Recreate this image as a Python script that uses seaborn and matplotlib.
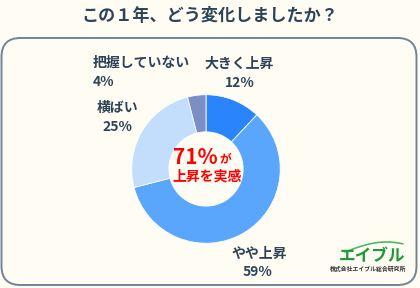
import numpy as np
import matplotlib
matplotlib.use('Agg')
import matplotlib.pyplot as plt
import seaborn as sns
from matplotlib.patches import FancyBboxPatch

sns.set_theme(style='white')
plt.rcParams['font.family'] = ['Noto Sans CJK JP', 'DejaVu Sans']

# データ
categories = ['大きく上昇', 'やや上昇', '横ばい', '把握していない']
shares = [12, 59, 25, 4]
colors = ['#2a84fc', '#5aa6fc', '#c3ddfc', '#7b8fc4']
title = 'この１年、どう変化しましたか？'

bg = '#fffcf4'
txt = '#2d4457'

fig = plt.figure(figsize=(4.2, 2.88), dpi=100)
fig.patch.set_facecolor(bg)

# 枠
W, H = 420, 288
frame = FancyBboxPatch((1.5 / W, 3 / H), 415 / W, 247 / H,
                       boxstyle='round,pad=0,rounding_size=0.045',
                       transform=fig.transFigure, facecolor=bg,
                       edgecolor='#6f8594', linewidth=1.4,
                       mutation_aspect=W / H, zorder=-5)
fig.patches.append(frame)

fig.text(0.5, 1 - 16 / H, title, ha='center', va='center',
         fontsize=12.3, fontweight='bold', color=txt)

# ドーナツ
ax = fig.add_axes([(206 - 75) / W, 1 - (169 + 75) / H, 150 / W, 150 / H])
ax.set_zorder(2)
ax.patch.set_alpha(0)
ax.pie(shares, colors=colors, startangle=90, counterclock=False,
       wedgeprops=dict(width=0.5, edgecolor='white', linewidth=0.6))
ax.set_xlim(-1.01, 1.01)
ax.set_ylim(-1.01, 1.01)
ax.set_aspect('equal')
ax.axis('off')

# ラベル
def lab(x, y, s, ha='center'):
    fig.text(x / W, 1 - y / H, s, ha=ha, va='center', fontsize=10,
             fontweight='bold', color=txt)

lab(239, 64, categories[0])
lab(240, 83, f'{shares[0]}%')
lab(259, 254, categories[1])
lab(258, 272, f'{shares[1]}%')
lab(118, 108, categories[2])
lab(117, 127, f'{shares[2]}%')
lab(93, 63, categories[3], ha='left')
lab(93, 82, f'{shares[3]}%', ha='left')

# 中央テキスト
up = shares[0] + shares[1]
fig.text(218 / W, 1 - 157 / H, f'{up}%', ha='right', va='center',
         fontsize=15, fontweight='bold', color='#ff0000', zorder=5)
fig.text(219 / W, 1 - 159 / H, 'が', ha='left', va='center',
         fontsize=8.5, fontweight='bold', color='#ff0000', zorder=5)
fig.text(207 / W, 1 - 177 / H, '上昇を実感', ha='center', va='center',
         fontsize=10, fontweight='bold', color='#ff0000', zorder=5)

# ロゴ
t = np.linspace(0, 1, 50)
fig.add_artist(plt.Line2D((345 + 58 * t) / W, 1 - (252 - 10 * np.sin(t * 2.2)) / H,
                          color='#4dbb5f', linewidth=1.2, transform=fig.transFigure))
fig.text(372 / W, 1 - 256 / H, 'エイブル', ha='center', va='center',
         fontsize=12, fontweight='bold', fontstyle='italic', color='#1f9a3a')
fig.text(368 / W, 1 - 269 / H, '株式会社エイブル総合研究所', ha='center', va='center',
         fontsize=4.2, fontweight='bold', color='#333333')

fig.savefig('out.png', dpi=100, facecolor=bg)
